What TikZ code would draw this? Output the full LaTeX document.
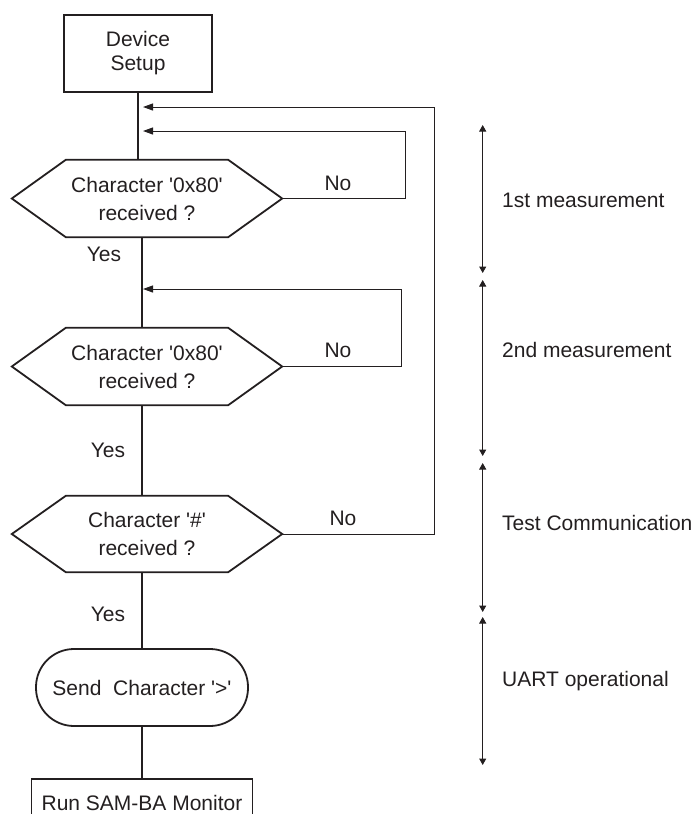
\documentclass[tikz,border=0pt]{standalone}
\usepackage{fontspec}
\setmainfont{Liberation Sans}
\usetikzlibrary{arrows.meta}
\definecolor{ink}{HTML}{231F20}
\newcommand{\hexa}[1]{\draw[flow] (#1.west) -- ([xshift=54pt]#1.north west) -- ([xshift=-54pt]#1.north east) -- (#1.east) -- ([xshift=-54pt]#1.south east) -- ([xshift=54pt]#1.south west) -- cycle;}
\begin{document}
\begin{tikzpicture}[x=1pt,y=-1pt,
  every node/.style={font=\fontsize{21}{28}\selectfont, text=ink},
  flow/.style={draw=ink, line width=1.8pt},
  loopline/.style={draw=ink, line width=1pt},
  boxnode/.style={flow, rectangle, inner sep=0pt, align=center},
  hexnode/.style={rectangle, minimum width=270pt, minimum height=77pt, inner sep=0pt, align=center},
  lbl/.style={inner sep=0pt},
  side/.style={draw=ink, line width=1pt, {Triangle[length=6.5pt,width=7pt]}-{Triangle[length=6.5pt,width=7pt]}},
  back/.style={loopline, -{Triangle[length=10pt,width=7pt]}}
]
\clip (0,0) rectangle (697,814);
\useasboundingbox (0,0) rectangle (697,814);

% nodes
\node[boxnode, minimum width=148pt, minimum height=77pt, font=\fontsize{21}{24}\selectfont] (setup) at (138,53.5) {Device\\Setup};
\node[hexnode] (h1) at (147,198.5) {Character \textquotesingle0x80\textquotesingle\\received ?};
\node[hexnode] (h2) at (147,366.5) {Character \textquotesingle0x80\textquotesingle\\received ?};
\node[hexnode, minimum height=76pt] (h3) at (147,534) {Character \textquotesingle\#\textquotesingle\\received ?};
\hexa{h1}
\hexa{h2}
\hexa{h3}
\node[boxnode, rounded corners=38pt, minimum width=212pt, minimum height=77pt] (send) at (142,687.5) {Send\ \ Character \textquotesingle>\textquotesingle};
\node[boxnode, minimum width=221pt, minimum height=48pt, anchor=north] (run) at (142,778) {Run SAM-BA Monitor};

% helper coordinates
\coordinate (m1) at (142,237);
\coordinate (r1) at (405,198.5);
\coordinate (r2) at (401,366.5);
\coordinate (r3) at (434,534);
\coordinate (t1) at (143,107);
\coordinate (t2) at (143,131);
\coordinate (t3) at (143,289);

% main flow
\draw[flow] (setup.south) -- (setup.south |- h1.north);
\draw[flow] (m1 |- h1.south) -- (m1 |- h2.north);
\draw[flow] (m1 |- h2.south) -- (m1 |- h3.north);
\draw[flow] (m1 |- h3.south) -- (send.north);
\draw[flow] (send.south) -- (run.north);

% back loops
\draw[back] (h1.east) -- (r1) -- (r1 |- t2) -- (t2);
\draw[back] (h2.east) -- (r2) -- (r2 |- t3) -- (t3);
\draw[back] (h3.east) -- (r3) -- (r3 |- t1) -- (t1);

% labels
\node[lbl] (no1) at (338,183) {No};
\node[lbl] (no2) at (338,350) {No};
\node[lbl] (no3) at (343,518) {No};
\node[lbl] (yes1) at (104,254) {Yes};
\node[lbl] (yes2) at (108,450) {Yes};
\node[lbl] (yes3) at (108,614) {Yes};

% side phases
\coordinate (a1) at (482.7,125);  \coordinate (b1) at (482.7,273);
\coordinate (a2) at (482.7,280);  \coordinate (b2) at (482.7,456);
\coordinate (a3) at (482.7,463);  \coordinate (b3) at (482.7,612);
\coordinate (a4) at (482.7,617);  \coordinate (b4) at (482.7,765);
\draw[side] (a1) -- (b1);
\draw[side] (a2) -- (b2);
\draw[side] (a3) -- (b3);
\draw[side] (a4) -- (b4);
\node[lbl, anchor=west] (p1) at (502,200) {1st measurement};
\node[lbl, anchor=west] (p2) at (502,350) {2nd measurement};
\node[lbl, anchor=west] (p3) at (502,523) {Test Communication};
\node[lbl, anchor=west] (p4) at (502,681) {UART operational};
\end{tikzpicture}
\end{document}
